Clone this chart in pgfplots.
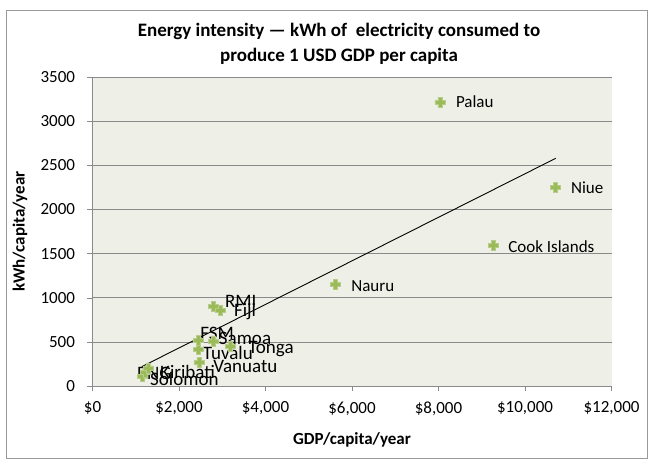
\documentclass[border=0pt]{standalone}
\usepackage{pgfplots}
\pgfplotsset{compat=1.18}
\usepackage{fontspec}
\setmainfont{Carlito}
\definecolor{plotbg}{HTML}{EEF0E8}
\definecolor{gridc}{HTML}{8A8A8A}
\definecolor{mk}{HTML}{9BBB59}
\definecolor{mkedge}{HTML}{B5CC8A}
\pgfdeclareplotmark{fatplus}{%
  \pgfpathmoveto{\pgfqpoint{-0.4\pgfplotmarksize}{\pgfplotmarksize}}%
  \pgfpathlineto{\pgfqpoint{0.4\pgfplotmarksize}{\pgfplotmarksize}}%
  \pgfpathlineto{\pgfqpoint{0.4\pgfplotmarksize}{0.4\pgfplotmarksize}}%
  \pgfpathlineto{\pgfqpoint{\pgfplotmarksize}{0.4\pgfplotmarksize}}%
  \pgfpathlineto{\pgfqpoint{\pgfplotmarksize}{-0.4\pgfplotmarksize}}%
  \pgfpathlineto{\pgfqpoint{0.4\pgfplotmarksize}{-0.4\pgfplotmarksize}}%
  \pgfpathlineto{\pgfqpoint{0.4\pgfplotmarksize}{-\pgfplotmarksize}}%
  \pgfpathlineto{\pgfqpoint{-0.4\pgfplotmarksize}{-\pgfplotmarksize}}%
  \pgfpathlineto{\pgfqpoint{-0.4\pgfplotmarksize}{-0.4\pgfplotmarksize}}%
  \pgfpathlineto{\pgfqpoint{-\pgfplotmarksize}{-0.4\pgfplotmarksize}}%
  \pgfpathlineto{\pgfqpoint{-\pgfplotmarksize}{0.4\pgfplotmarksize}}%
  \pgfpathlineto{\pgfqpoint{-0.4\pgfplotmarksize}{0.4\pgfplotmarksize}}%
  \pgfpathclose
  \pgfusepathqfillstroke
}
\pgfplotstableread{
x y
1150 110
1210 160
1280 205
2460 264
2450 416
2450 521
2790 510
3180 445
2790 898
2950 853
5620 1155
9270 1589
10710 2250
8030 3213
}\datatable
\begin{document}
\begin{tikzpicture}
\useasboundingbox (-92.5bp,-78bp) rectangle (560.5bp,386bp);
\draw[gray!80] (-86.5bp,-72bp) rectangle (554.5bp,376bp);
\node[font=\bfseries\fontsize{19bp}{25bp}\selectfont, align=center] at (246.5bp,342bp)
  {Energy intensity — kWh of\ \ electricity consumed to\\ produce 1 USD GDP per capita};
\begin{axis}[
  at={(0,0)}, anchor=south west,
  scale only axis, width=519bp, height=309bp,
  xmin=0, xmax=12000, ymin=0, ymax=3500,
  axis x line=bottom, axis y line=left,
  axis line style={-, draw=gridc},
  axis background/.style={fill=plotbg},
  xtick={0,2000,...,12000},
  ytick={0,500,...,3500},
  ymajorgrids, major grid style={gridc, line width=0.6pt},
  tick style={gridc},
  tick align=outside, major tick length=5bp,
  /pgf/number format/assume math mode=true,
  ticklabel style={font=\fontsize{17bp}{20bp}\selectfont, text=black},
  xticklabel style={yshift=-7bp},
  yticklabel style={xshift=-9bp},
  xticklabel={\$\pgfmathprintnumber[1000 sep={,}]{\tick}},
  yticklabel={\pgfmathprintnumber[1000 sep={}]{\tick}},
  scaled x ticks=false, scaled y ticks=false,
  xlabel={GDP/capita/year},
  ylabel={kWh/capita/year},
  label style={font=\bfseries\fontsize{17bp}{20bp}\selectfont},
  xlabel style={at={(axis description cs:0.5,-0.1748)}, anchor=center},
  ylabel style={at={(axis description cs:-0.1397,0.5)}, anchor=center},
  clip=false,
]
\addplot[black, line width=0.9pt] coordinates {(1140,219) (10710,2579)};
\addplot[only marks, mark=fatplus, mark size=5bp, mark options={fill=mk, draw=mkedge, line width=0.5pt}] table[x=x,y=y] {\datatable};
\begin{scope}[every node/.style={anchor=west, inner sep=0pt, font=\fontsize{17bp}{20bp}\selectfont}]
\node at (axis cs:8400,3216) {Palau};
\node at (axis cs:11060,2242) {Niue};
\node at (axis cs:9610,1578) {Cook Islands};
\node at (axis cs:5980,1133) {Nauru};
\end{scope}
\begin{scope}[every node/.style={anchor=west, inner sep=0pt, font=\fontsize{19bp}{20bp}\selectfont}]
\node at (axis cs:3060,955) {RMI};
\node at (axis cs:3270,838) {Fiji};
\node at (axis cs:2490,600) {FSM};
\node at (axis cs:2920,544) {Samoa};
\node at (axis cs:2550,374) {Tuvalu};
\node at (axis cs:3600,419) {Tonga};
\node at (axis cs:2790,226) {Vanuatu};
\node at (axis cs:1030,147) {PNG};
\node at (axis cs:1560,159) {Kiribati};
\node at (axis cs:1330,79) {Solomon};
\end{scope}
\end{axis}
\end{tikzpicture}
\end{document}
